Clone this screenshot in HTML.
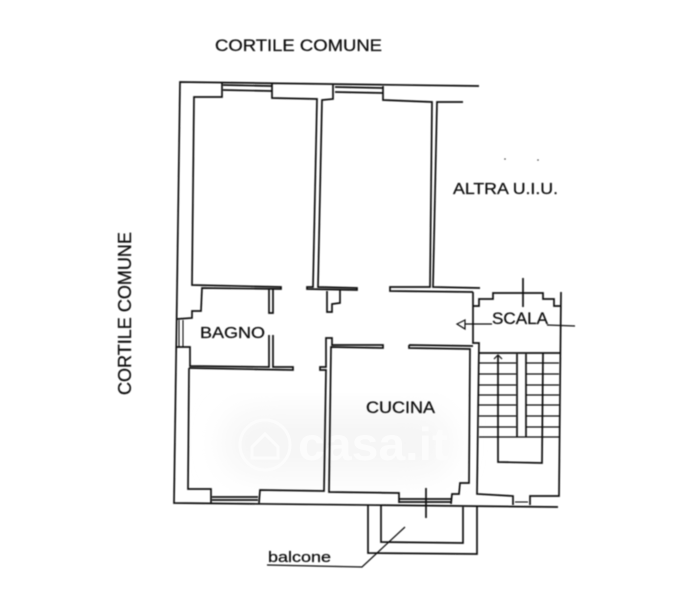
<!DOCTYPE html>
<html>
<head>
<meta charset="utf-8">
<style>
html,body{margin:0;padding:0;background:#fff;}
svg{display:block;}
text{font-family:"Liberation Sans",sans-serif;fill:#111;stroke:#111;stroke-width:0.25;}
text.wm{fill:#fcfcfc;stroke:none;}
</style>
</head>
<body>
<svg width="678" height="600" viewBox="0 0 678 600" xmlns="http://www.w3.org/2000/svg">
<defs>
<filter id="s" x="-5%" y="-5%" width="110%" height="110%"><feGaussianBlur stdDeviation="0.4"/></filter>
<filter id="w" x="-30%" y="-30%" width="160%" height="160%"><feGaussianBlur stdDeviation="16"/></filter>
</defs>
<rect width="678" height="600" fill="#fff"/>
<!-- watermark -->
<rect x="225" y="412" width="225" height="62" rx="26" fill="#f5f5f5" filter="url(#w)"/>
<g fill="none" stroke="#fcfcfc" stroke-width="3">
<circle cx="265" cy="445" r="25"/>
<path d="M252 447 L265 434 L278 447 V458 H252 Z"/>
</g>
<text class="wm" x="298" y="460" font-size="46" font-weight="bold" textLength="150" lengthAdjust="spacingAndGlyphs">casa.it</text>
<g filter="url(#s)">
<g fill="none" stroke="#111" stroke-width="1.7" stroke-linejoin="miter">
<!-- outer wall -->
<path d="M479 86 L180 82 L174 503 L558 507"/>
<!-- room 1 -->
<path d="M222 83 V97 H194 L192 285 L281 287 V289 L202 288 L201 311 H192 V318 L177 319"/>
<path d="M223 85 L272 86 M223 90 L272 91"/>
<path d="M272 84 V98 L317 99 L313 287 H307 V289 L357 290 V288 L318 287 L322 100 L333 99 V85"/>
<path d="M335 87 L383 88 M335 92 L383 93"/>
<path d="M383 86 V100 L432 102 L430 287 H390 V291 L473 292 M480 288 L433 287 L437 102 H463"/>
<!-- bagno -->
<path d="M269 288 V313 H273 V288"/>
<path d="M269 335 V367 L190 366 V347 H177"/>
<path d="M273 335 V367 H293 V370 L189 368"/>
<path d="M179 320 V347 M183 320 V347" stroke-width="1.1"/>
<!-- small niche -->
<path d="M327 291 V312 H332 V304 L340 303 V290"/>
<!-- lower left room -->
<path d="M189 368 L188 489 H211 V503 M212 497 L258 497 M212 500 L258 500 M259 503 L260 490 L324 491 L326 370 H320 V367 H326 V338 H332 V345 L383 345 V348 L331 347 L329 492 L399 493 V503"/>
<!-- cucina -->
<path d="M409 345 L473 346 M409 345 V348 L470 349 L469 483 H460 L459 494 H452 L451 504"/>
<path d="M399 499 L451 499 M399 502 L451 502"/>
<path d="M426 488 V518"/>
<!-- scala enclosure -->
<path d="M473 292 V343 H479 L477 494 L513 496 V505 M530 505 V496 L559 496 L561 292"/>
<path d="M473 306 H479 V299 H493 V293 H543 V299 H554 V306 H561"/>
<path d="M515 502 H528" stroke-width="1.1"/>
<path d="M523 278 V307"/>
<path d="M479 353 H560"/>
<!-- arrow scala -->
<path d="M465 320 L457 324 L465 329 Z M465 324 H492 M547 325 L575 326" stroke-width="1.2"/>
<!-- stairs -->
<path d="M517 354 V437 M526 354 V437"/>
<path d="M498 356 V462 L542 463 L543 353"/>
<path d="M479 363 H516 M526 363 H559 M479 374 H516 M526 374 H559 M479 385 H516 M526 385 H559 M479 395 H516 M526 395 H559 M479 405 H516 M526 405 H559 M479 416 H516 M526 416 H559 M479 427 H516 M526 427 H559 M479 437 H559" stroke-width="1.2"/>
<path d="M494 359 L498 355 L502 359" stroke-width="1.2"/>
<!-- balcony -->
<path d="M368 505 V553 L477 554 V507"/>
<path d="M381 505 V542 L463 543 V507"/>
<path d="M405 527 L362 567 L267 565" stroke-width="1.2"/>
</g>
<circle cx="505" cy="159" r="0.8" fill="#444"/>
<circle cx="538" cy="160" r="0.8" fill="#444"/>
<text x="215" y="51" font-size="16.5" textLength="167" lengthAdjust="spacingAndGlyphs">CORTILE COMUNE</text>
<text x="453" y="194" font-size="16" textLength="105" lengthAdjust="spacingAndGlyphs">ALTRA U.I.U.</text>
<text x="200" y="338" font-size="16" textLength="65" lengthAdjust="spacingAndGlyphs">BAGNO</text>
<text x="366" y="413" font-size="16.5" textLength="69" lengthAdjust="spacingAndGlyphs">CUCINA</text>
<text x="492" y="324" font-size="16.5" textLength="56" lengthAdjust="spacingAndGlyphs">SCALA</text>
<text x="268" y="562" font-size="15" textLength="63" lengthAdjust="spacingAndGlyphs">balcone</text>
<text transform="translate(131,395) rotate(-90)" font-size="18.5" textLength="163" lengthAdjust="spacingAndGlyphs">CORTILE COMUNE</text>
</g>
</svg>
</body>
</html>
